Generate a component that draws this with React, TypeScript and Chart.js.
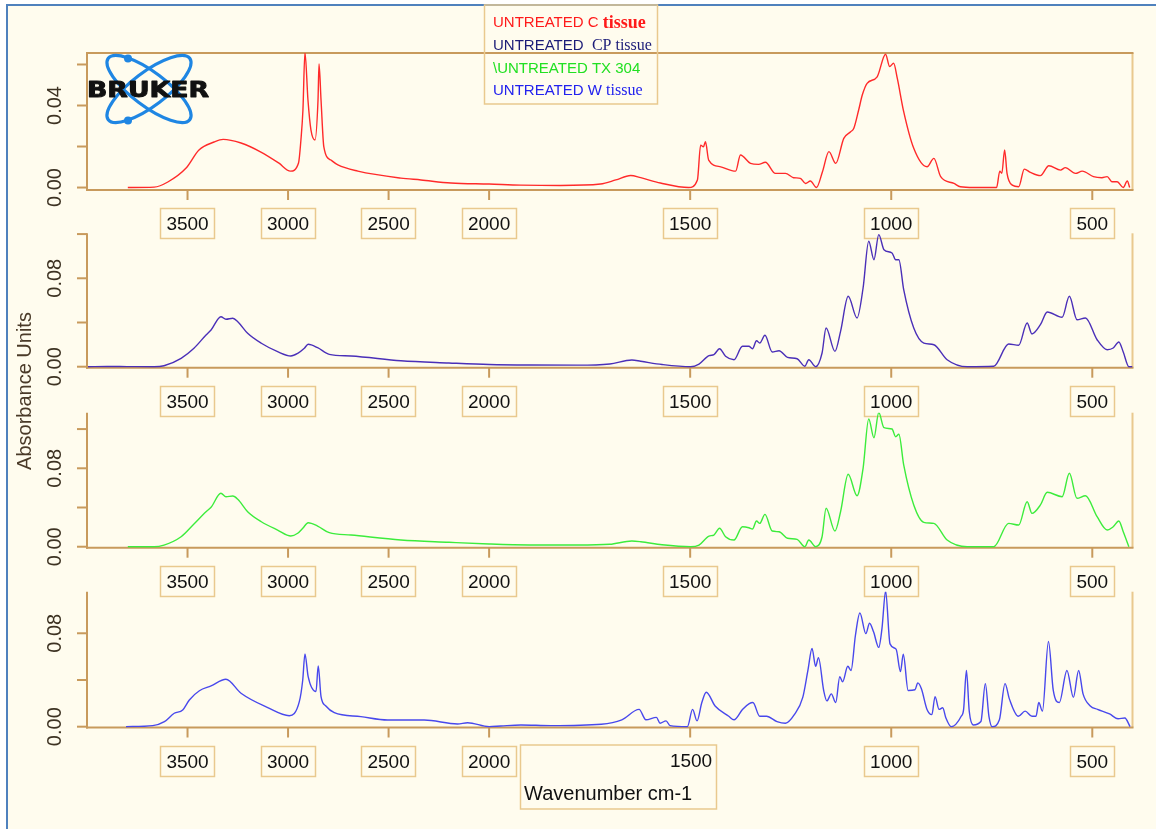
import React, { useEffect, useRef } from 'react';
import { Chart, LineController, LineElement, PointElement, LinearScale } from 'chart.js';

// ---------- data (wavenumber cm-1, absorbance) ----------
const X_TICKS = [3500, 3000, 2500, 2000, 1500, 1000, 500];

const C_TISSUE: [number, number][] = [
  [3797, 0], [3666, 0.0002], [3598, 0.0027], [3507, 0.0095], [3443, 0.0183], [3368, 0.0222],
  [3323, 0.0235], [3234, 0.0217], [3135, 0.0173], [3047, 0.012], [2988, 0.008], [2948, 0.012],
  [2936, 0.0232], [2926, 0.0378], [2916, 0.066], [2901, 0.0427], [2886, 0.028], [2866, 0.0232],
  [2851, 0.0427], [2846, 0.0602], [2836, 0.0427], [2822, 0.0198], [2787, 0.0134], [2752, 0.011],
  [2653, 0.008], [2439, 0.0046], [2339, 0.0037], [2190, 0.0022], [2000, 0.0017], [1921, 0.0012],
  [1822, 0.001], [1723, 0.0017], [1685, 0.0037], [1648, 0.0059], [1623, 0.0048], [1574, 0.0022],
  [1504, 0], [1482, 0.0037], [1474, 0.0207], [1467, 0.0199], [1462, 0.0223], [1454, 0.0134],
  [1424, 0.0101], [1387, 0.008], [1375, 0.0159], [1350, 0.0118], [1330, 0.0113], [1313, 0.0123],
  [1288, 0.0069], [1263, 0.0069], [1243, 0.0048], [1226, 0.0045], [1213, 0.002], [1201, 0.0032],
  [1186, 0], [1171, 0.0077], [1155, 0.0175], [1138, 0.0118], [1118, 0.024], [1101, 0.0272],
  [1093, 0.0289], [1081, 0.0378], [1072, 0.0451], [1060, 0.0508], [1035, 0.054], [1014, 0.065],
  [1004, 0.059], [994, 0.0606], [985, 0.0533], [969, 0.037], [944, 0.0191], [911, 0.0101],
  [894, 0.0142], [877, 0.0053], [844, 0.002], [828, 0.0004], [795, 0], [749, 0], [738, 0],
  [730, 0.008], [725, 0.0069], [718, 0.0183], [712, 0.0069], [699, 0.0012], [683, 0.0004],
  [669, 0.009], [654, 0.0074], [629, 0.0058], [608, 0.0106], [579, 0.0085], [567, 0.0097],
  [542, 0.0069], [525, 0.008], [497, 0.0053], [476, 0.0048], [463, 0.0053], [451, 0.0028],
  [438, 0.0028], [423, 0], [413, 0.0032], [407, 0],
];

const CP_TISSUE: [number, number][] = [
  [3995, 0], [3900, 0.0002], [3800, 0.0001], [3666, 0], [3617, 0.0009], [3532, 0.0076],
  [3468, 0.0167], [3408, 0.0287], [3383, 0.0332], [3334, 0.0452], [3309, 0.0429], [3275, 0.0438],
  [3250, 0.0407], [3201, 0.0302], [3133, 0.0212], [3052, 0.0136], [2986, 0.0097], [2952, 0.0121],
  [2919, 0.0167], [2900, 0.0203], [2853, 0.0172], [2795, 0.0112], [2687, 0.0097], [2439, 0.0054],
  [2200, 0.0034], [2000, 0.002], [1900, 0.0015], [1780, 0.0014], [1700, 0.0025], [1645, 0.006],
  [1623, 0.0049], [1570, 0.002], [1499, 0], [1478, 0.0024], [1453, 0.01], [1441, 0.0109],
  [1427, 0.0163], [1412, 0.0094], [1391, 0.0063], [1370, 0.0185], [1354, 0.0185], [1345, 0.0163],
  [1335, 0.0235], [1327, 0.0214], [1314, 0.0284], [1296, 0.0133], [1279, 0.0145], [1258, 0.0085],
  [1234, 0.0072], [1215, 0.0004], [1205, 0.0063], [1188, 0], [1172, 0.0124], [1162, 0.035],
  [1140, 0.0139], [1126, 0.032], [1107, 0.0637], [1085, 0.0441], [1070, 0.0712], [1056, 0.1135],
  [1043, 0.0968], [1031, 0.1195], [1018, 0.1059], [998, 0.1029], [989, 0.0968], [981, 0.0968],
  [969, 0.0697], [944, 0.035], [919, 0.0214], [894, 0.0199], [861, 0.0063], [811, 0], [745, 0.0004],
  [708, 0.0205], [683, 0.0194], [662, 0.0395], [650, 0.0296], [629, 0.038], [612, 0.0495],
  [575, 0.0447], [557, 0.0637], [538, 0.0425], [517, 0.0441], [488, 0.0244], [463, 0.0154],
  [448, 0.0169], [434, 0.0224], [423, 0.0133], [409, 0], [400, 0],
];

const TX_304: [number, number][] = [
  [3797, 0], [3666, 0], [3617, 0.0017], [3532, 0.0102], [3468, 0.0232], [3408, 0.0357],
  [3383, 0.0402], [3334, 0.0545], [3309, 0.051], [3275, 0.0517], [3250, 0.0484], [3201, 0.0357],
  [3133, 0.0255], [3052, 0.017], [2986, 0.0109], [2952, 0.0137], [2927, 0.0188], [2900, 0.0245],
  [2853, 0.0211], [2795, 0.0143], [2687, 0.0119], [2439, 0.0068], [2200, 0.0045], [2000, 0.0028],
  [1900, 0.0018], [1780, 0.0017], [1700, 0.0025], [1645, 0.0058], [1623, 0.0051], [1570, 0.002],
  [1499, 0], [1478, 0.0017], [1453, 0.0109], [1441, 0.0119], [1427, 0.0188], [1412, 0.0102],
  [1391, 0.0068], [1370, 0.0204], [1354, 0.0194], [1345, 0.018], [1335, 0.0262], [1327, 0.0238],
  [1314, 0.033], [1296, 0.016], [1279, 0.0153], [1258, 0.0086], [1234, 0.0075], [1215, 0],
  [1205, 0.0068], [1188, 0], [1172, 0.0102], [1162, 0.0392], [1140, 0.016], [1126, 0.0357],
  [1107, 0.0739], [1085, 0.052], [1070, 0.08], [1056, 0.1303], [1043, 0.1112], [1031, 0.137],
  [1018, 0.1214], [998, 0.1201], [989, 0.1122], [981, 0.1147], [969, 0.0834], [944, 0.0426],
  [919, 0.0249], [894, 0.0238], [861, 0.0068], [811, 0], [745, 0], [708, 0.0238], [683, 0.0221],
  [662, 0.0459], [650, 0.034], [629, 0.0426], [612, 0.0555], [575, 0.051], [557, 0.0749],
  [538, 0.0494], [517, 0.052], [488, 0.0306], [463, 0.017], [448, 0.0204], [434, 0.0262],
  [423, 0.0153], [409, 0],
];

const W_TISSUE: [number, number][] = [
  [3806, 0], [3673, 0.0009], [3615, 0.0043], [3566, 0.0115], [3524, 0.0143], [3491, 0.0229],
  [3441, 0.0308], [3383, 0.0349], [3309, 0.0406], [3234, 0.0286], [3101, 0.0163], [2994, 0.0094],
  [2944, 0.0214], [2927, 0.04], [2916, 0.0623], [2900, 0.0428], [2861, 0.03], [2850, 0.052],
  [2836, 0.0257], [2812, 0.0177], [2770, 0.012], [2638, 0.0086], [2505, 0.0057], [2323, 0.0057],
  [2157, 0.0023], [2107, 0.0034], [2000, 0], [1971, 0.0006], [1921, 0.0015], [1846, 0.0009],
  [1721, 0.0021], [1670, 0.0059], [1627, 0.0148], [1610, 0.0059], [1584, 0.008], [1575, 0.003],
  [1560, 0.005], [1550, 0.0009], [1507, 0], [1494, 0.0148], [1483, 0.005], [1471, 0.0207],
  [1460, 0.0295], [1438, 0.0177], [1404, 0.0089], [1391, 0.0059], [1370, 0.0148], [1353, 0.0198],
  [1344, 0.0207], [1327, 0.0089], [1310, 0.0089], [1284, 0.0044], [1263, 0.003], [1241, 0.0103],
  [1220, 0.0251], [1207, 0.0487], [1197, 0.067], [1188, 0.0517], [1181, 0.0591], [1168, 0.031],
  [1160, 0.0221], [1149, 0.0281], [1138, 0.0207], [1128, 0.0428], [1121, 0.0384], [1108, 0.0517],
  [1100, 0.0481], [1089, 0.0783], [1078, 0.0974], [1063, 0.0797], [1054, 0.0886], [1044, 0.0812],
  [1031, 0.0679], [1023, 0.0842], [1014, 0.116], [1003, 0.0709], [988, 0.0664], [977, 0.0472],
  [970, 0.062], [958, 0.031], [941, 0.0316], [934, 0.0375], [925, 0.0325], [911, 0.0148],
  [899, 0.0103], [891, 0.0257], [881, 0.0148], [872, 0.0162], [864, 0.0074], [851, 0],
  [826, 0.0089], [820, 0.0148], [813, 0.0481], [806, 0.0133], [796, 0.0015], [777, 0.0044],
  [766, 0.0369], [757, 0.0089], [749, 0], [731, 0.0059], [717, 0.0369], [706, 0.0236],
  [684, 0.0089], [667, 0.0133], [650, 0.0089], [640, 0.0089], [633, 0.0207], [624, 0.0133],
  [609, 0.0729], [597, 0.031], [582, 0.0207], [563, 0.0481], [547, 0.0251], [534, 0.0481],
  [523, 0.0281], [505, 0.0177], [487, 0.0148], [457, 0.0109], [436, 0.0068], [419, 0.0074],
  [406, 0],
];

const P1_Y_TICKS = [0, 0.02, 0.04, 0.06];
const P1_Y_LABELS = [0, 0.04];
const P2_Y_TICKS = [0, 0.04, 0.08, 0.12];
const P2_Y_LABELS = [0, 0.08];
const P3_Y_TICKS = [0, 0.04, 0.08, 0.12];
const P3_Y_LABELS = [0, 0.08];
const P4_Y_TICKS = [0, 0.04, 0.08];
const P4_Y_LABELS = [0, 0.08];

// ---------- styles / layout ----------
const W = 1156;
const H = 829;
const SANS = '"Liberation Sans", Arial, sans-serif';
const SERIF = '"Liberation Serif", "Times New Roman", serif';
const AXIS = '#c89a5c';
const LIGHT = '#e9c98e';

interface Panel {
  data: [number, number][];
  color: string;
  top: number;
  bottom: number;
  yMin: number;
  yMax: number;
  yTicks: number[];
  yLabels: number[];
  boxed?: boolean;
  last?: boolean;
  first?: boolean;
}

const PANELS: Panel[] = [
  { data: C_TISSUE, color: '#ff2a2a', top: 53, bottom: 190, yMin: -0.0012, yMax: 0.0656, yTicks: P1_Y_TICKS, yLabels: P1_Y_LABELS, boxed: true, first: true },
  { data: CP_TISSUE, color: '#4a2fb8', top: 233.3, bottom: 367.7, yMin: -0.0009, yMax: 0.1207, yTicks: P2_Y_TICKS, yLabels: P2_Y_LABELS },
  { data: TX_304, color: '#3cec3c', top: 412.7, bottom: 547.7, yMin: -0.001, yMax: 0.1367, yTicks: P3_Y_TICKS, yLabels: P3_Y_LABELS },
  { data: W_TISSUE, color: '#4848ec', top: 591.7, bottom: 727.5, yMin: -0.0007, yMax: 0.1156, yTicks: P4_Y_TICKS, yLabels: P4_Y_LABELS, last: true },
];

// OPUS-style axis: region above 2000 cm-1 is compressed by a factor of 2
const toU = (w: number) => (w <= 2000 ? w : 2000 + (w - 2000) / 2);
const fromU = (u: number) => (u <= 2000 ? u : 2000 + (u - 2000) * 2);

class WavenumberScale extends LinearScale {
  static id = 'wavenumber';
  static defaults = LinearScale.defaults;
  getPixelForValue(value: number) {
    const a = toU(this.min);
    const b = toU(this.max);
    return this.getPixelForDecimal((toU(value) - a) / (b - a));
  }
  getValueForPixel(pixel: number) {
    const a = toU(this.min);
    const b = toU(this.max);
    return fromU(a + this.getDecimalForPixel(pixel) * (b - a));
  }
}

Chart.register(LineController, LineElement, PointElement, LinearScale, WavenumberScale);

function line(ctx: CanvasRenderingContext2D, x1: number, y1: number, x2: number, y2: number) {
  ctx.beginPath();
  ctx.moveTo(x1, y1);
  ctx.lineTo(x2, y2);
  ctx.stroke();
}

function drawLogo(ctx: CanvasRenderingContext2D) {
  ctx.save();
  ctx.strokeStyle = '#1f86e3';
  ctx.fillStyle = '#1f86e3';
  ctx.lineWidth = 3.2;
  for (const r of [37, -37]) {
    ctx.beginPath();
    ctx.ellipse(149, 89, 51, 17, (r * Math.PI) / 180, 0, Math.PI * 2);
    ctx.stroke();
  }
  for (const [cx, cy] of [[128, 58.5], [128, 120.5]]) {
    ctx.beginPath();
    ctx.arc(cx, cy, 4, 0, Math.PI * 2);
    ctx.fill();
  }
  const word = 'BRUKER';
  ctx.font = 'bold 21px "DejaVu Sans", sans-serif';
  ctx.textBaseline = 'alphabetic';
  ctx.textAlign = 'left';
  const w0 = ctx.measureText(word).width;
  const sx = 122 / w0;
  ctx.translate(87, 97);
  ctx.scale(sx, 1);
  ctx.fillStyle = '#111';
  ctx.strokeStyle = '#111';
  ctx.lineWidth = 0.9;
  ctx.lineJoin = 'round';
  ctx.strokeText(word, 0, 0);
  ctx.fillText(word, 0, 0);
  ctx.restore();
}

function drawLegend(ctx: CanvasRenderingContext2D) {
  ctx.save();
  ctx.strokeStyle = LIGHT;
  ctx.lineWidth = 1.5;
  ctx.strokeRect(484.5, 5, 173, 99);
  ctx.textBaseline = 'middle';
  ctx.textAlign = 'left';
  const rows: { y: number; parts: [string, string, string][] }[] = [
    { y: 23, parts: [['UNTREATED C ', `15px ${SANS}`, '#ff1a1a'], ['tissue', `bold 18px ${SERIF}`, '#ff1a1a']] },
    { y: 45.5, parts: [['UNTREATED  ', `15px ${SANS}`, '#1c1c78'], ['CP tissue', `16px ${SERIF}`, '#1c1c78']] },
    { y: 68.5, parts: [['\\UNTREATED TX 304', `15px ${SANS}`, '#22e022']] },
    { y: 91, parts: [['UNTREATED W ', `15px ${SANS}`, '#2222ee'], ['tissue', `16px ${SERIF}`, '#2222ee']] },
  ];
  for (const r of rows) {
    let x = 493;
    for (const [t, f, c] of r.parts) {
      ctx.font = f;
      ctx.fillStyle = c;
      ctx.fillText(t, x, r.y);
      x += ctx.measureText(t).width;
    }
  }
  ctx.restore();
}

function makeFramePlugin(p: Panel) {
  return {
    id: 'frame',
    beforeDatasetsDraw(chart: any) {
      const { ctx, chartArea: a, scales } = chart;
      const x = scales.x;
      const y = scales.y;
      ctx.save();
      ctx.lineWidth = 2;
      ctx.strokeStyle = LIGHT;
      line(ctx, a.right, a.top, a.right, a.bottom);
      ctx.strokeStyle = AXIS;
      line(ctx, a.left, a.top, a.left, a.bottom + 1);
      line(ctx, a.left - 1, a.bottom, a.right + 1, a.bottom);
      if (p.boxed) line(ctx, a.left - 1, a.top, a.right + 1, a.top);
      for (const t of p.yTicks) {
        const py = y.getPixelForValue(t);
        line(ctx, a.left - 10, py, a.left, py);
      }
      for (const w of X_TICKS) {
        const px = x.getPixelForValue(w);
        line(ctx, px, a.bottom, px, a.bottom + 10);
      }
      ctx.restore();
    },
    afterDraw(chart: any) {
      const { ctx, chartArea: a, scales } = chart;
      const x = scales.x;
      const y = scales.y;
      ctx.save();
      // y labels
      ctx.font = `20px ${SANS}`;
      ctx.fillStyle = '#3d3222';
      ctx.textAlign = 'center';
      ctx.textBaseline = 'middle';
      for (const t of p.yLabels) {
        const py = y.getPixelForValue(t);
        ctx.save();
        ctx.translate(54, py);
        ctx.rotate(-Math.PI / 2);
        ctx.fillText(t.toFixed(2), 0, 1);
        ctx.restore();
      }
      // x labels in boxes
      ctx.font = `19px ${SANS}`;
      ctx.lineWidth = 1.5;
      ctx.strokeStyle = LIGHT;
      ctx.fillStyle = '#111';
      for (const w of X_TICKS) {
        const px = x.getPixelForValue(w);
        const label = String(w);
        if (p.last && w === 1500) {
          ctx.strokeRect(520.5, a.bottom + 17.5, 196, 64);
          ctx.textAlign = 'right';
          ctx.fillText(label, px + 22, a.bottom + 34);
          ctx.textAlign = 'left';
          ctx.font = `20px ${SANS}`;
          ctx.fillText('Wavenumber cm-1', 524, a.bottom + 67);
          ctx.font = `19px ${SANS}`;
          ctx.textAlign = 'center';
          continue;
        }
        const tw = ctx.measureText(label).width;
        const bx = Math.round(px - tw / 2 - 6) + 0.5;
        const by = Math.round(a.bottom + 18) + 0.5;
        ctx.strokeRect(bx, by, Math.round(tw + 12), 30);
        ctx.fillText(label, px, by + 16);
      }
      if (p.first) {
        drawLogo(ctx);
        drawLegend(ctx);
        ctx.save();
        ctx.font = `20px ${SANS}`;
        ctx.fillStyle = '#4a3a28';
        ctx.textAlign = 'center';
        ctx.textBaseline = 'middle';
        ctx.translate(25, 391);
        ctx.rotate(-Math.PI / 2);
        ctx.fillText('Absorbance Units', 0, 0);
        ctx.restore();
      }
      ctx.restore();
    },
  };
}

function SpectrumPanel({ panel }: { panel: Panel }) {
  const ref = useRef<HTMLCanvasElement>(null);
  useEffect(() => {
    if (!ref.current) return;
    const chart = new Chart(ref.current, {
      type: 'line',
      data: {
        datasets: [
          {
            data: panel.data.map(([w, v]) => ({ x: w, y: v })),
            borderColor: panel.color,
            borderWidth: 1.4,
            pointRadius: 0,
            fill: false,
            cubicInterpolationMode: 'monotone',
          },
        ],
      },
      options: {
        animation: false,
        responsive: false,
        devicePixelRatio: 1,
        events: [],
        layout: { padding: { left: 87, right: W - 1132.5, top: panel.top, bottom: H - panel.bottom } },
        scales: {
          x: { type: 'wavenumber', min: 400, max: 4000, reverse: true, display: false },
          y: { type: 'linear', min: panel.yMin, max: panel.yMax, display: false },
        },
        plugins: { legend: { display: false }, tooltip: { enabled: false } },
      } as any,
      plugins: [makeFramePlugin(panel)],
    } as any);
    return () => chart.destroy();
  }, [panel]);
  return (
    <canvas
      ref={ref}
      width={W}
      height={H}
      style={{ position: 'absolute', left: 0, top: 0, width: W, height: H }}
    />
  );
}

export default function App() {
  return (
    <div style={{ position: 'fixed', left: 0, top: 0, width: W, height: H, background: '#ffffff', overflow: 'hidden' }}>
      <div
        style={{
          position: 'absolute',
          left: 6,
          top: 4,
          width: 1250,
          height: 950,
          border: '2px solid #4f81bd',
          background: '#fffcee',
        }}
      />
      {PANELS.map((p, i) => (
        <SpectrumPanel key={i} panel={p} />
      ))}
    </div>
  );
}
